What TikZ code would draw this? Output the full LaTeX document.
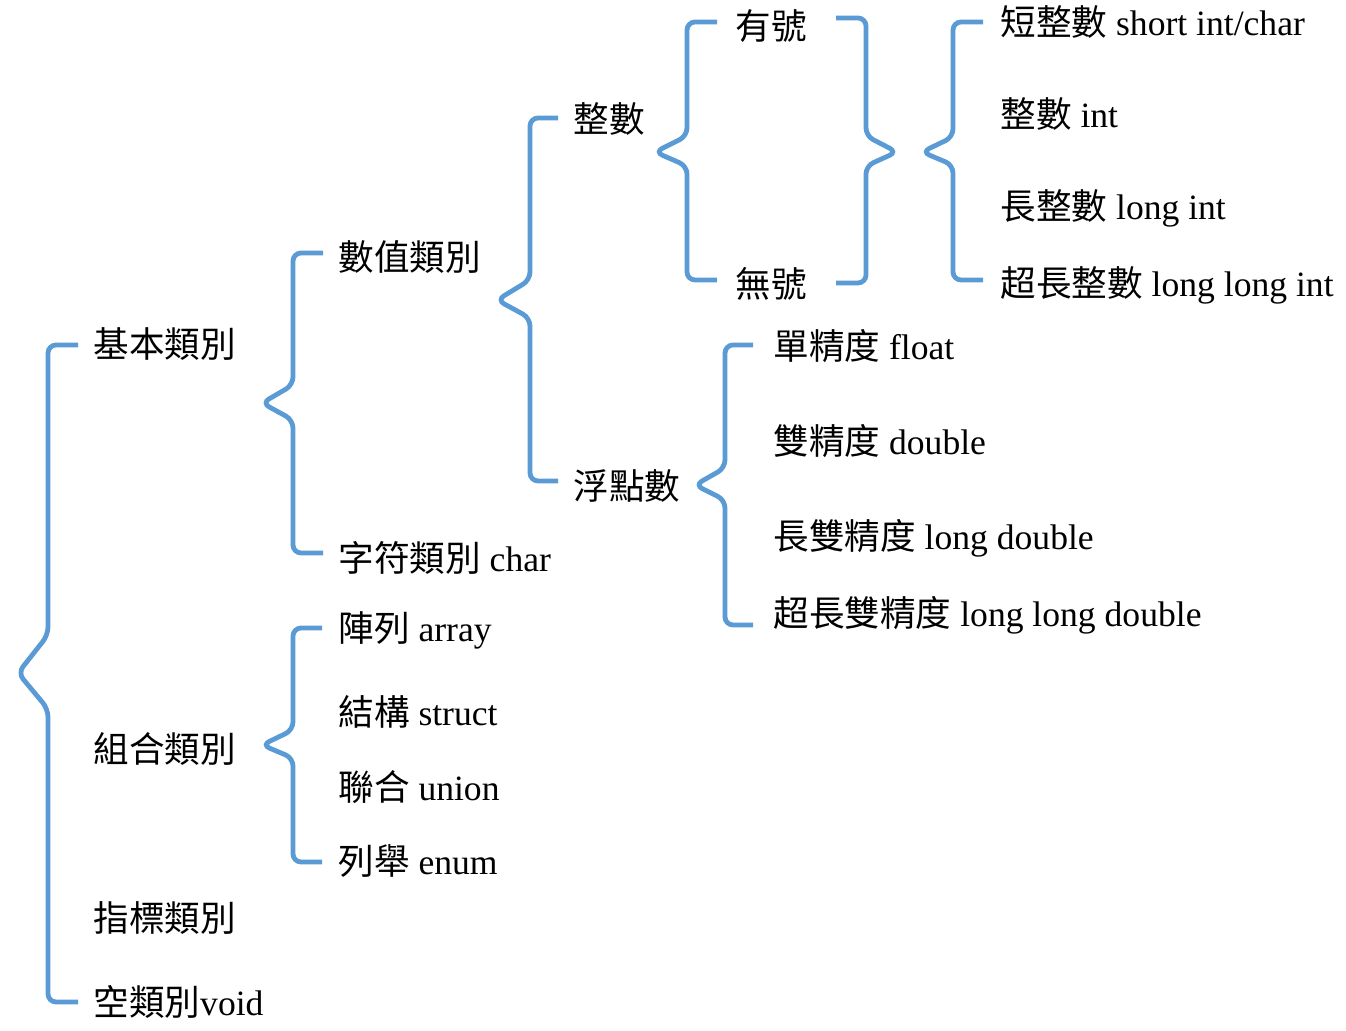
\documentclass[tikz,border=0pt]{standalone}
\usepackage{xcolor}
\usepackage{fontspec}
\setmainfont{Liberation Serif}
\newfontfamily\cjk{Noto Sans CJK TC}
\newcommand{\zhtw}[1]{{\cjk #1}}
\usepackage{tikz}
\usetikzlibrary{calc}
\usetikzlibrary{positioning}
\definecolor{bracecol}{RGB}{91,155,213}

\begin{document}
\begin{tikzpicture}[
    x=0.5pt, y=-0.5pt,
    brace/.style={draw=bracecol, line width=2.4pt, rounded corners=4pt},
    label/.style={anchor=base west, inner sep=0pt,
      font=\fontsize{17.8}{21}\selectfont}]

    \useasboundingbox (0, 0) rectangle (1346, 1031);

    \node [label] (basic) at (93, 358) {\zhtw{基本類別}};
    \node [label] (compound) at (93, 763) {\zhtw{組合類別}};
    \node [label] (pointer) at (93, 932) {\zhtw{指標類別}};
    \node [label] (void) at (93, 1016) {\zhtw{空類別}void};

    \node [label] (numeric) at (338, 271) {\zhtw{數值類別}};
    \node [label] (char) at (338, 572) {\zhtw{字符類別} char};
    \node [label] (array) at (338, 642) {\zhtw{陣列} array};
    \node [label] (struct) at (338, 726) {\zhtw{結構} struct};
    \node [label] (union) at (338, 801) {\zhtw{聯合} union};
    \node [label] (enum) at (338, 875) {\zhtw{列舉} enum};

    \node [label] (integer) at (573, 133) {\zhtw{整數}};
    \node [label] (floating) at (573, 500) {\zhtw{浮點數}};

    \node [label] (signed) at (735, 40) {\zhtw{有號}};
    \node [label] (unsigned) at (735, 298) {\zhtw{無號}};

    \node [label] (short) at (1000, 36) {\zhtw{短整數} short int/char};
    \node [label] (int) at (1000, 128) {\zhtw{整數} int};
    \node [label] (long) at (1000, 220) {\zhtw{長整數} long int};
    \node [label] (longlong) at (1000, 297) {\zhtw{超長整數} long long int};

    \node [label] (float) at (773, 360) {\zhtw{單精度} float};
    \node [label] (double) at (773, 455) {\zhtw{雙精度} double};
    \node [label] (ldouble) at (773, 550) {\zhtw{長雙精度} long double};
    \node [label] (lldouble) at (773, 627) {\zhtw{超長雙精度} long long double};

    \draw [brace] (78, 345) -- (48, 345) -- (48, 635) -- (18, 673)
    -- (48, 709) -- (48, 1002) -- (78, 1002);

    \draw [brace] (323, 253) -- (293, 253) -- (293, 385) -- (262, 403)
    -- (293, 420) -- (293, 553) -- (323, 553);

    \draw [brace] (558, 118) -- (530, 118) -- (530, 280) -- (497, 300)
    -- (530, 318) -- (530, 481) -- (558, 481);

    \draw [brace] (717, 22) -- (687, 22) -- (687, 136) -- (655, 152)
    -- (687, 166) -- (687, 280) -- (717, 280);

    \draw [brace] (836, 18) -- (866, 18) -- (866, 136) -- (897, 152)
    -- (866, 166) -- (866, 283) -- (836, 283);

    \draw [brace] (983, 22) -- (953, 22) -- (953, 137) -- (922, 152)
    -- (953, 165) -- (953, 280) -- (983, 280);

    \draw [brace] (753, 345) -- (725, 345) -- (725, 468) -- (695, 485)
    -- (725, 500) -- (725, 625) -- (753, 625);

    \draw [brace] (322, 628) -- (293, 628) -- (293, 730) -- (262, 745)
    -- (293, 758) -- (293, 862) -- (322, 862);

  \end{tikzpicture}
\end{document}
